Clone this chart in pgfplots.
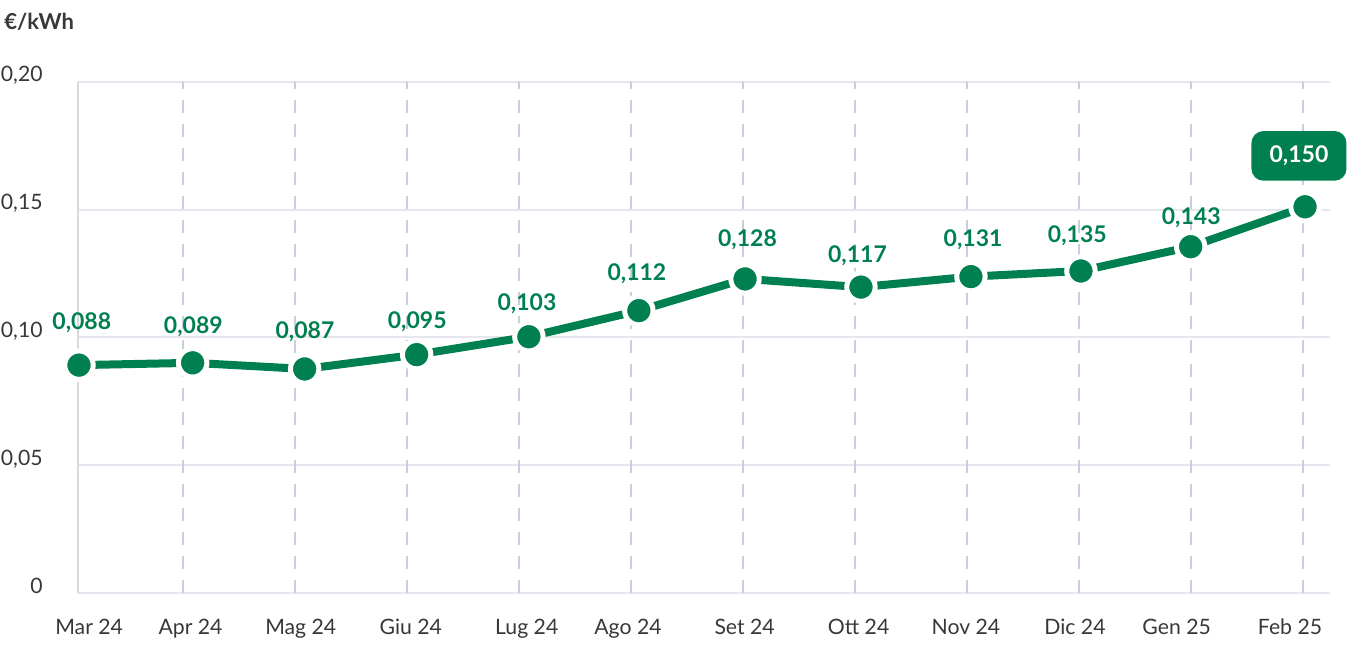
\documentclass[border=0pt]{standalone}
\usepackage{pgfplots}
\pgfplotsset{compat=1.18}
\usepackage{pgfplotstable}
\usepackage{fontspec}
\setmainfont{Lato}
\definecolor{ngreen}{RGB}{0,128,80}
\definecolor{gridh}{RGB}{230,230,239}
\definecolor{gridv}{RGB}{200,204,224}
\definecolor{axgray}{RGB}{216,216,224}
\definecolor{txt}{RGB}{56,56,56}

% plotted points (x in months, Apr 24 = 1)
\pgfplotstableread{
x y
0.074 0.0892
1.089 0.0901
2.089 0.0877
3.089 0.0933
4.091 0.1003
5.073 0.1105
6.021 0.1229
7.056 0.1197
8.038 0.1238
9.020 0.1260
10.000 0.1355
11.021 0.1511
}\pricedata

% value labels
\pgfplotstableread{
lx ly lab
0.099 0.1057 {0,088}
1.095 0.1042 {0,089}
2.092 0.1023 {0,087}
3.094 0.1062 {0,095}
4.074 0.1131 {0,103}
5.056 0.1248 {0,112}
6.043 0.1381 {0,128}
7.025 0.1319 {0,117}
8.057 0.1381 {0,131}
8.988 0.1396 {0,135}
10.005 0.1468 {0,143}
}\labeldata

\pgfplotstableread{
lx ly lab
10.967 0.1710 {0,150}
}\lastlabel

\begin{document}
\begin{tikzpicture}
\begin{axis}[
  name=ax, at={(0,0)}, anchor=south west,
  scale only axis, width=626.15pt, height=255.8pt,
  xmin=0.0625, xmax=11.244, ymin=0, ymax=0.2,
  axis x line*=bottom, axis y line*=left,
  axis line style={-},
  x axis line style={draw=gridh, line width=1pt},
  y axis line style={draw=axgray, line width=1pt},
  ytick={0,0.05,0.1,0.15,0.2},
  yticklabels={0,{0,05},{0,10},{0,15},{0,20}},
  xtick={0.165,1.070,2.054,3.037,4.072,4.976,6.017,7.035,7.994,8.967,9.875,10.887},
  xticklabels={Mar 24,Apr 24,Mag 24,Giu 24,Lug 24,Ago 24,Set 24,Ott 24,Nov 24,Dic 24,Gen 25,Feb 25},
  extra x ticks={1,2,3,4,5,6,7,8,9,10,11},
  extra x tick labels={},
  extra x tick style={grid=major, major grid style={draw=gridv, line width=1pt, dash pattern=on 6.5pt off 5.5pt}},
  ymajorgrids=true,
  major grid style={draw=gridh, line width=1pt},
  major tick length=0pt,
  tick style={draw=none},
  ticklabel style={font=\fontsize{10.6}{12}\selectfont, text=txt},
  yticklabel style={anchor=base east, inner sep=0pt, xshift=-17.35pt},
  xticklabel style={anchor=base, inner sep=0pt, yshift=-20.85pt},
  clip=false,
]
\addplot[ngreen, line width=4pt, mark=*, mark size=7.1pt,
  mark options={fill=ngreen, draw=white, line width=2.5pt}]
  table[x=x, y=y]{\pricedata};
\addplot[draw=none, mark=none, nodes near coords, point meta=explicit symbolic,
  every node near coord/.append style={anchor=center, inner sep=0pt,
    font=\bfseries\fontsize{11.5}{13}\selectfont, text=ngreen}]
  table[x=lx, y=ly, meta=lab]{\labeldata};
\addplot[draw=none, mark=none, nodes near coords, point meta=explicit symbolic,
  every node near coord/.append style={anchor=center, inner sep=0pt,
    fill=ngreen, rounded corners=6pt, minimum width=47.5pt, minimum height=24.85pt,
    font=\bfseries\fontsize{11.5}{13}\selectfont, text=white}]
  table[x=lx, y=ly, meta=lab]{\lastlabel};
\end{axis}
\node[anchor=base west, inner sep=0pt, font=\bfseries\fontsize{11}{13}\selectfont, text=txt]
  at (-36.85pt,281.65pt) {€/kWh};
\pgfresetboundingbox
\path[use as bounding box] (-38.85pt,-27.35pt) rectangle (636.15pt,296.65pt);
\end{tikzpicture}
\end{document}
